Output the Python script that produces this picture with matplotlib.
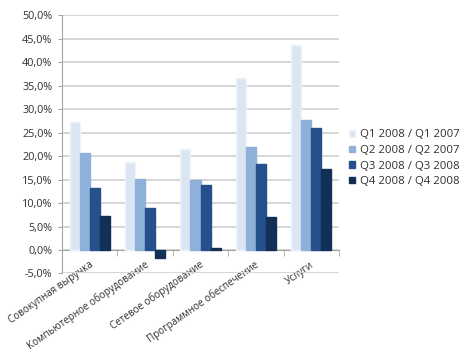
import numpy as np
import matplotlib
matplotlib.use("Agg")
import matplotlib.pyplot as plt
from matplotlib.ticker import FuncFormatter

categories = ["Совокупная выручка", "Компьютерное оборудование", "Сетевое оборудование",
              "Программное обеспечение", "Услуги"]
series = ["Q1 2008 / Q1 2007", "Q2 2008 / Q2 2007", "Q3 2008 / Q3 2008", "Q4 2008 / Q4 2008"]
q1 = [27.2, 18.8, 21.4, 36.7, 43.6]
q2 = [20.7, 15.1, 15.0, 21.9, 27.6]
q3 = [13.3, 9.0, 13.9, 18.2, 26.0]
q4 = [7.2, -1.7, 0.5, 7.0, 17.2]
colors = ["#dce6f2", "#8eb0d9", "#25508b", "#122f55"]
edges = ["#eef4fb", "#8eb0d9", "#25508b", "#122f55"]

plt.rcParams['font.family'] = ['Open Sans', 'DejaVu Sans']
fig = plt.figure(figsize=(4.67, 3.59), dpi=100)
ax = fig.add_axes([0.1328, 0.2382, 0.5931, 0.7198])

x = np.arange(len(categories))
w = 0.182
for i, vals in enumerate([q1, q2, q3, q4]):
    ax.bar(x + (i - 1.5) * w, vals, w, color=colors[i], edgecolor=edges[i],
           linewidth=1.0, label=series[i], zorder=3)

ax.set_xlim(-0.5, 4.5)
ax.set_ylim(-5, 50)
ax.set_yticks(np.arange(-5, 51, 5))
ax.yaxis.set_major_formatter(FuncFormatter(lambda v, p: ("%.1f%%" % v).replace(".", ",")))
ax.grid(axis='y', color='#d6d6d6', lw=1.4, zorder=0)
for s in ['top', 'right']:
    ax.spines[s].set_visible(False)
ax.spines['left'].set_color('#a6a6a6')
ax.spines['bottom'].set_position(('data', 0))
ax.spines['bottom'].set_color('#a6a6a6')
ax.tick_params(axis='y', length=3, color='#a6a6a6', labelsize=7.8, labelcolor='#303030', pad=4)

ax.set_xticks(x + 0.04)
ax.set_xticklabels(categories, rotation=35, ha='right', va='center', rotation_mode='anchor',
                   fontsize=7.1, color='#303030')
ax.tick_params(axis='x', which='major', length=0, pad=10)
ax.set_xticks(np.arange(-0.5, 4.6, 1), minor=True)
ax.tick_params(axis='x', which='minor', length=4, color='#a6a6a6', direction='out')

fig.legend(loc='upper left', bbox_to_anchor=(0.726, 0.668), frameon=False, fontsize=8.2,
           handlelength=0.5, handleheight=0.5, handletextpad=0.4, labelspacing=0.4,
           labelcolor='#303030')

fig.savefig("out.png", dpi=100)
